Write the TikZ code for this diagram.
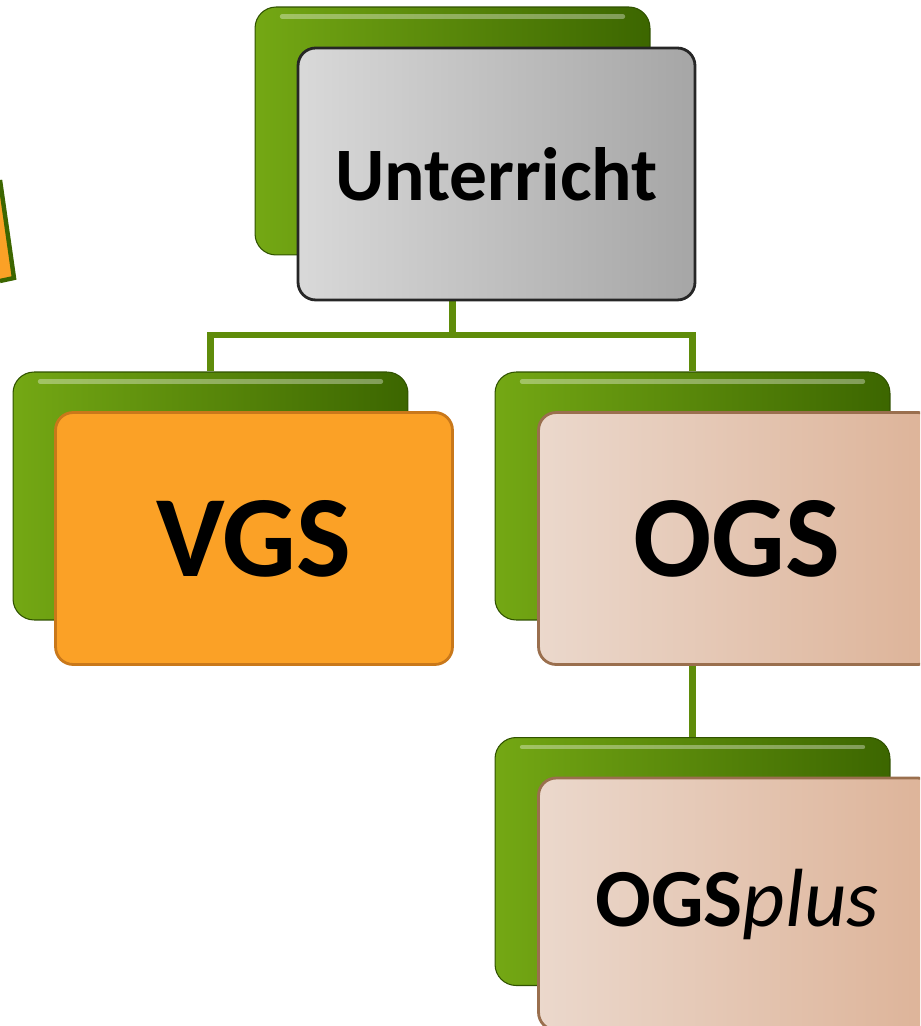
\documentclass[tikz,border=0pt]{standalone}
\usepackage{fontspec}
\setmainfont{Carlito}
\usetikzlibrary{positioning,calc}
\definecolor{leafgreen}{HTML}{74A814}
\definecolor{darkleaf}{HTML}{3C6600}
\definecolor{linkgreen}{HTML}{5F8C0A}
\definecolor{vgsorange}{HTML}{FBA126}
\definecolor{vgsedge}{HTML}{C9781A}
\definecolor{peachlight}{HTML}{EBD8CC}
\definecolor{peachdark}{HTML}{DDB398}
\definecolor{peachedge}{HTML}{9A6F4E}
\tikzset{
  backbox/.style={rectangle, rounded corners=12pt, draw=darkleaf!80!black, line width=0.6pt,
                  left color=leafgreen, right color=darkleaf,
                  minimum width=7.9cm, minimum height=4.96cm},
  frontbox/.style={rectangle, rounded corners=10pt, line width=1.6pt,
                   minimum width=7.94cm, minimum height=5.04cm, align=center},
  link/.style={draw=linkgreen, line width=3.5pt},
}
\begin{document}
\begin{tikzpicture}[
    x=0.02cm,
    y=-0.02cm,
    graybox/.style={frontbox, draw=black!85, left color=black!15, right color=black!35},
    orangebox/.style={frontbox, draw=vgsedge, fill=vgsorange},
    peachbox/.style={frontbox, draw=peachedge, left color=peachlight, right color=peachdark},
  ]
    \useasboundingbox (0,0) rectangle (920,1026);
    \clip (0,0) rectangle (920,1026);

    % Cut-off box at the left edge
    \fill[vgsorange] (0,180) -- (14,278) -- (0,281) -- cycle;
    \draw[darkleaf, line width=2.5pt] (0,180) -- (14,278) -- (0,281);

    % Green back plates
    \node[backbox] (unt_back) at (452.5,131) {};
    \node[backbox] (vgs_back) at (210.5,496) {};
    \node[backbox] (ogs_back) at (692.5,496) {};
    \node[backbox] (plus_back) at (692.5,861.5) {};

    % Top highlights on the plates
    \foreach \plate in {unt_back,vgs_back,ogs_back,plus_back}
      \draw[white, opacity=0.35, line width=2.5pt, line cap=round]
        ([xshift=0.55cm, yshift=-0.2cm]\plate.north west) -- ([xshift=-0.55cm, yshift=-0.2cm]\plate.north east);

    % Connectors
    \coordinate (fork) at (452.5,335);
    \draw[link] (unt_back.south) -- (fork) -| (vgs_back.north);
    \draw[link] (fork) -| (ogs_back.north);
    \draw[link] (ogs_back.south) -- (plus_back.north);

    % Front cards
    \node[graybox, font=\fontsize{43}{48}\selectfont\bfseries] (unterricht) at (496.5,174) {Unterricht};
    \node[orangebox, font=\fontsize{66}{72}\selectfont\bfseries] (vgs) at (254,538.5) {VGS};
    \node[peachbox, font=\fontsize{66}{72}\selectfont\bfseries] (ogs) at (737,538.5) {OGS};
    \node[peachbox, font=\fontsize{47}{52}\selectfont] (ogsplus) at (737,904) {\textbf{OGS}\textit{plus}};
  \end{tikzpicture}
\end{document}
